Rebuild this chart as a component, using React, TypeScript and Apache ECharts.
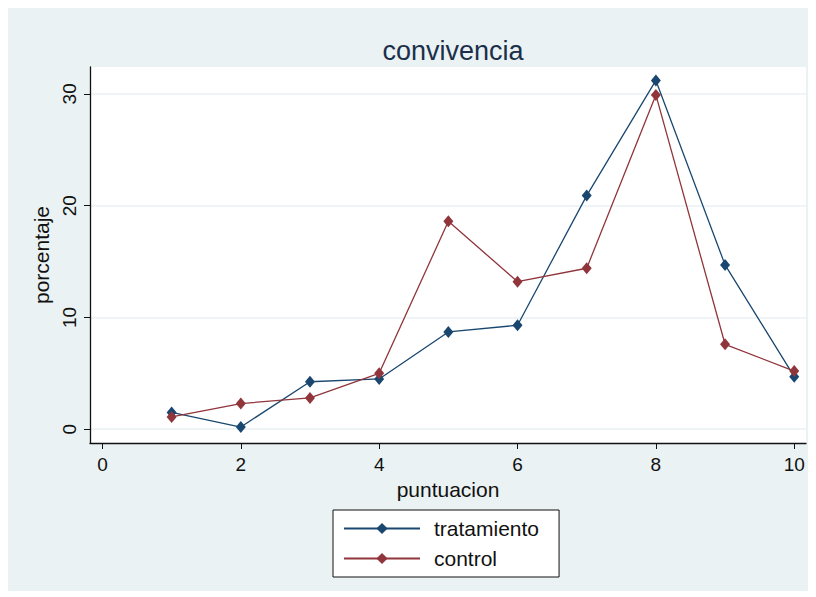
import React, { useEffect, useRef } from "react";
import * as echarts from "echarts";

// Puntuación (1–10) y porcentaje de cada grupo
const puntuacion = [1, 2, 3, 4, 5, 6, 7, 8, 9, 10];
const tratamiento = [1.5, 0.2, 4.25, 4.5, 8.7, 9.3, 20.9, 31.2, 14.7, 4.7];
const control = [1.1, 2.3, 2.8, 5.0, 18.6, 13.2, 14.4, 29.9, 7.6, 5.2];
const xTicks = [0, 2, 4, 6, 8, 10];
const yTicks = [0, 10, 20, 30];

const NAVY = "#1A476F";
const MAROON = "#90353B";
const BG = "#EAF2F3";
const FONT = "Liberation Sans, Arial, sans-serif";

export default function App() {
  const ref = useRef<HTMLDivElement>(null);

  useEffect(() => {
    if (!ref.current) return;
    const chart = echarts.init(ref.current, undefined, { renderer: "svg" });

    const pairs = (ys: number[]) => puntuacion.map((x, i) => [x, ys[i]]);

    chart.setOption({
      animation: false,
      backgroundColor: BG,
      textStyle: { fontFamily: FONT },
      title: {
        text: "convivencia",
        left: 440,
        textAlign: "center",
        top: 24,
        textStyle: { fontFamily: FONT, fontSize: 27, fontWeight: "normal", color: "#1c2f4a" },
      },
      grid: { left: 82, top: 59, width: 716, height: 376, show: true, backgroundColor: "#fff", borderWidth: 0 },
      xAxis: {
        type: "value",
        min: -0.18,
        max: 10.17,
        name: "puntuacion",
        nameLocation: "middle",
        nameGap: 36,
        nameTextStyle: { fontFamily: FONT, fontSize: 21, color: "#111" },
        axisLine: { show: true, onZero: false, lineStyle: { color: "#111", width: 1.3 } },
        axisTick: { show: true, length: 6, customValues: xTicks, lineStyle: { color: "#111" } },
        axisLabel: { customValues: xTicks, fontSize: 19, color: "#111", margin: 12, fontFamily: FONT },
        splitLine: { show: false },
      },
      yAxis: {
        type: "value",
        min: -1.23,
        max: 32.4,
        name: "porcentaje",
        nameLocation: "middle",
        nameRotate: 90,
        nameGap: 37,
        nameTextStyle: { fontFamily: FONT, fontSize: 21, color: "#111" },
        axisLine: { show: true, onZero: false, lineStyle: { color: "#111", width: 1.3 } },
        axisTick: { show: true, length: 6, customValues: yTicks, lineStyle: { color: "#111" } },
        axisLabel: { customValues: yTicks, rotate: 90, fontSize: 19, color: "#111", margin: 11, fontFamily: FONT },
        splitLine: { show: true, lineStyle: { color: BG, width: 1.5 } },
      },
      legend: {
        orient: "vertical",
        left: 325,
        top: 502,
        backgroundColor: "#fff",
        borderColor: "#111",
        borderWidth: 1,
        borderRadius: 0,
        padding: [8, 20, 8, 10],
        itemWidth: 76,
        itemHeight: 14,
        itemGap: 9,
        textStyle: { fontFamily: FONT, fontSize: 21, color: "#111", padding: [0, 0, 0, 9] },
        data: ["tratamiento", "control"],
      },
      series: [
        {
          name: "tratamiento",
          type: "line",
          data: pairs(tratamiento),
          symbol: "diamond",
          symbolSize: [10, 12],
          lineStyle: { color: NAVY, width: 1.3 },
          itemStyle: { color: NAVY },
          z: 3,
        },
        {
          name: "control",
          type: "line",
          data: pairs(control),
          symbol: "diamond",
          symbolSize: [10, 12],
          lineStyle: { color: MAROON, width: 1.3 },
          itemStyle: { color: MAROON },
          z: 4,
        },
      ],
    });

    return () => chart.dispose();
  }, []);

  return <div ref={ref} style={{ width: 804, height: 583 }} />;
}
